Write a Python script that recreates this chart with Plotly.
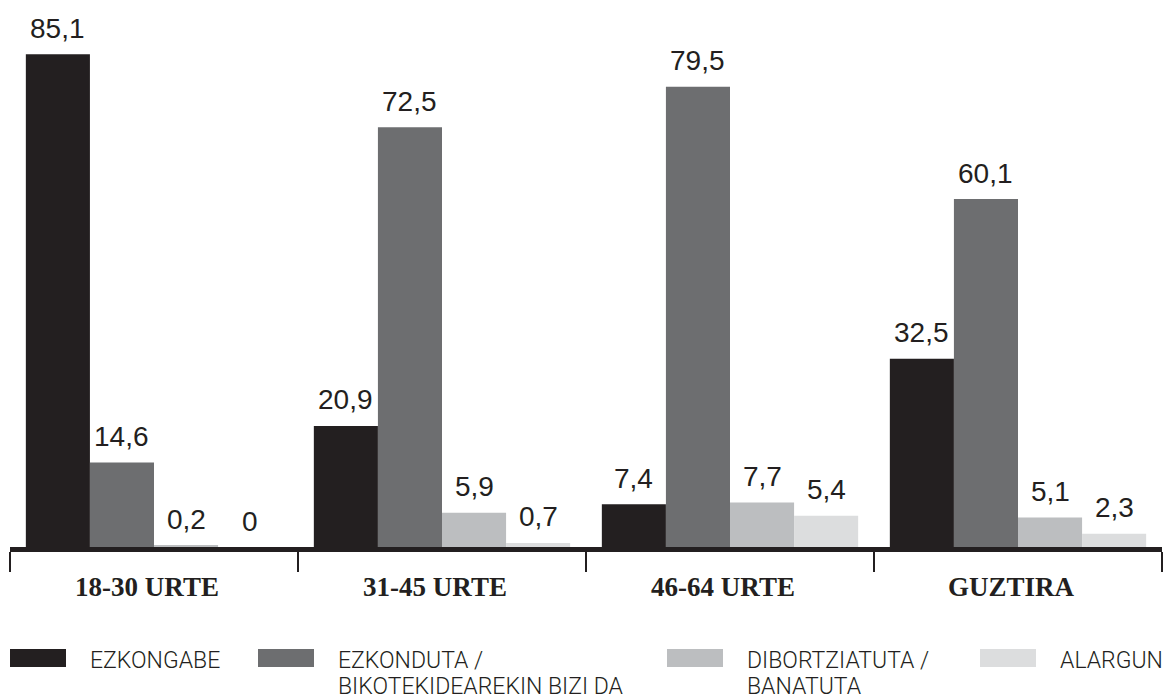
import plotly.graph_objects as go

# Datuak
kategoriak = ["18-30 URTE", "31-45 URTE", "46-64 URTE", "GUZTIRA"]
serieak = ["EZKONGABE", "EZKONDUTA /\nBIKOTEKIDEAREKIN BIZI DA", "DIBORTZIATUTA /\nBANATUTA", "ALARGUN"]
ezkongabe = [85.1, 20.9, 7.4, 32.5]
ezkonduta = [14.6, 72.5, 79.5, 60.1]
dibortziatuta = [0.2, 5.9, 7.7, 5.1]
alargun = [0, 0.7, 5.4, 2.3]
balioak = [ezkongabe, ezkonduta, dibortziatuta, alargun]

koloreak = ["#231f20", "#6d6e70", "#bcbec0", "#dcddde"]
testu_kolorea = "#231f20"

W, H = 1165, 695
ML, MR, MT, MB = 10, 3, 10, 148
PW, PH = W - ML - MR, H - MT - MB


def px(x):
    return (x - ML) / PW


def py(y):
    return (H - MB - y) / PH


fig = go.Figure()
for izena, y, kolorea in zip(serieak, balioak, koloreak):
    fig.add_trace(go.Bar(
        x=kategoriak, y=y, name=izena.replace("\n", " "),
        marker=dict(color=kolorea, line=dict(width=0)),
        showlegend=False, hoverinfo="skip",
    ))

# Balioen etiketak barren gainean
n = len(serieak)
zab = (1 - 0.11) / n
for i, y in enumerate(balioak):
    for j, v in enumerate(y):
        fig.add_annotation(
            x=j - (1 - 0.11) / 2 + zab * (i + 0.5), y=v, xref="x", yref="y",
            text=("%g" % v).replace(".", ","), showarrow=False,
            yanchor="middle", yshift=26,
            font=dict(family="Liberation Sans, Arial, sans-serif", size=28, color=testu_kolorea),
        )

# Legenda eskuz
leg_x = [10, 258, 667, 980]
for izena, kolorea, x0 in zip(serieak, koloreak, leg_x):
    fig.add_shape(type="rect", xref="paper", yref="paper",
                  x0=px(x0), x1=px(x0 + 56), y0=py(649), y1=py(667),
                  fillcolor=kolorea, line=dict(width=0))
    for k, lerroa in enumerate(izena.split("\n")):
        fig.add_annotation(
            x=px(x0 + 79), y=py(660 + 26 * k), xref="paper", yref="paper",
            text=lerroa, showarrow=False, xanchor="left", yanchor="middle", borderpad=0,
            font=dict(family="Roboto, Liberation Sans, sans-serif", weight=300,
                      size=23, color=testu_kolorea),
        )

fig.update_layout(
    width=W, height=H,
    margin=dict(l=ML, r=MR, t=MT, b=MB),
    barmode="group", bargap=0.11, bargroupgap=0,
    plot_bgcolor="white", paper_bgcolor="white",
    xaxis=dict(
        showline=True, linewidth=5, linecolor=testu_kolorea,
        ticks="outside", tickson="boundaries", ticklen=20, tickwidth=2, tickcolor=testu_kolorea,
        tickfont=dict(family="Liberation Serif, Times New Roman, serif", size=27,
                      color=testu_kolorea, weight="bold"),
        ticklabelshift=-7, ticklabelstandoff=12,
        showgrid=False, zeroline=False,
    ),
    yaxis=dict(range=[0, PH / 5.79], visible=False, showgrid=False, zeroline=False),
)

fig.write_html("out.html", config={"displayModeBar": False},
               post_script="document.body.style.margin='0';")
